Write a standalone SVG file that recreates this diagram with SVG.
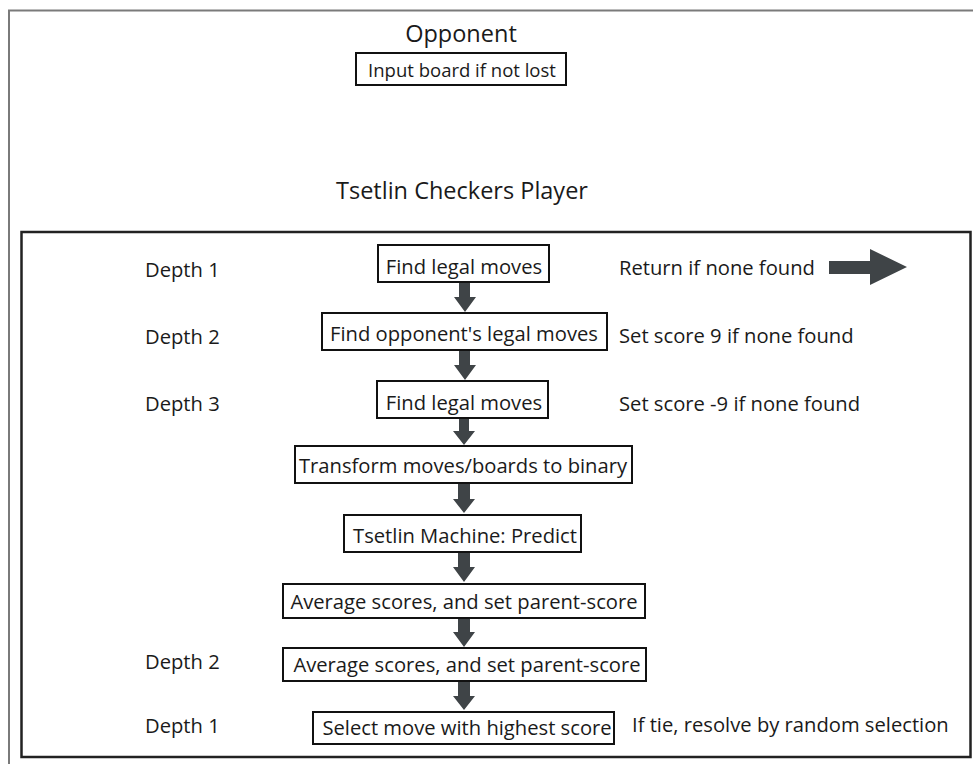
<svg xmlns="http://www.w3.org/2000/svg" width="973" height="764" viewBox="0 0 973 764">
  <style>
    text { font-family: "Open Sans", "Liberation Sans", sans-serif; fill: #1a1a1a; }
    .title { font-size: 23.5px; text-anchor: middle; }
    .box { fill: #ffffff; stroke: #111111; stroke-width: 2; }
    .lbl { font-size: 20.2px; text-anchor: middle; dominant-baseline: central; }
    .side { font-size: 20.2px; dominant-baseline: central; }
    .arrow { fill: #3f4447; }
  </style>

  <!-- outer frame -->
  <rect x="9" y="10.5" width="1000" height="800" fill="none" stroke="#7a7a7a" stroke-width="2"/>

  <!-- opponent section -->
  <text class="title" x="461" y="42">Opponent</text>
  <g id="input-board">
    <rect class="box" x="356" y="53" width="210" height="32"/>
    <text class="lbl" x="462" y="69" style="font-size:18.5px">Input board if not lost</text>
  </g>

  <!-- player section -->
  <text class="title" x="462" y="199">Tsetlin Checkers Player</text>
  <rect x="21.5" y="232" width="949" height="525" fill="none" stroke="#222222" stroke-width="2.5"/>

  <!-- depth labels -->
  <g id="depth-labels">
    <text class="side" x="145" y="269">Depth 1</text>
    <text class="side" x="145" y="336">Depth 2</text>
    <text class="side" x="145" y="403">Depth 3</text>
    <text class="side" x="145" y="661">Depth 2</text>
    <text class="side" x="145" y="725">Depth 1</text>
  </g>

  <!-- side notes -->
  <g id="notes">
    <text class="side" x="619" y="267">Return if none found</text>
    <text class="side" x="619" y="335">Set score 9 if none found</text>
    <text class="side" x="619" y="403">Set score -9 if none found</text>
    <text class="side" x="632" y="724">If tie, resolve by random selection</text>
  </g>

  <!-- flow nodes -->
  <g id="n1">
    <rect class="box" x="378" y="245" width="171" height="37"/>
    <text class="lbl" x="464" y="266">Find legal moves</text>
  </g>
  <g id="n2">
    <rect class="box" x="322" y="313" width="285" height="37"/>
    <text class="lbl" x="464" y="333">Find opponent's legal moves</text>
  </g>
  <g id="n3">
    <rect class="box" x="377" y="381" width="171" height="37"/>
    <text class="lbl" x="464" y="402">Find legal moves</text>
  </g>
  <g id="n4">
    <rect class="box" x="295" y="446" width="337" height="37"/>
    <text class="lbl" x="463" y="465">Transform moves/boards to binary</text>
  </g>
  <g id="n5">
    <rect class="box" x="344" y="515" width="237" height="37"/>
    <text class="lbl" x="465" y="535">Tsetlin Machine: Predict</text>
  </g>
  <g id="n6">
    <rect class="box" x="283" y="584" width="362" height="34"/>
    <text class="lbl" x="464" y="601">Average scores, and set parent-score</text>
  </g>
  <g id="n7">
    <rect class="box" x="283" y="648" width="363" height="33"/>
    <text class="lbl" x="467" y="664">Average scores, and set parent-score</text>
  </g>
  <g id="n8">
    <rect class="box" x="313" y="712" width="301" height="32"/>
    <text class="lbl" x="467" y="727">Select move with highest score</text>
  </g>

  <!-- connectors -->
  <g id="connectors">
    <polygon class="arrow" points="459,283 470,283 470,297 476,297 465,312 454,297 459,297"/>
    <polygon class="arrow" points="459,351 470,351 470,365 476,365 465,380 454,365 459,365"/>
    <polygon class="arrow" points="459,419 469,419 469,431 475,431 464,445 453,431 459,431"/>
    <polygon class="arrow" points="458,484 470,484 470,499 475,499 464,513 453,499 458,499"/>
    <polygon class="arrow" points="458,553 470,553 470,567 475,567 464,582 453,567 458,567"/>
    <polygon class="arrow" points="458,619 470,619 470,632 475,632 464,647 453,632 458,632"/>
    <polygon class="arrow" points="458,682 470,682 470,696 475,696 464,710 453,696 458,696"/>
    <polygon class="arrow" points="829,261 870,261 870,249 907,267 870,285 870,274 829,274"/>
  </g>
</svg>
